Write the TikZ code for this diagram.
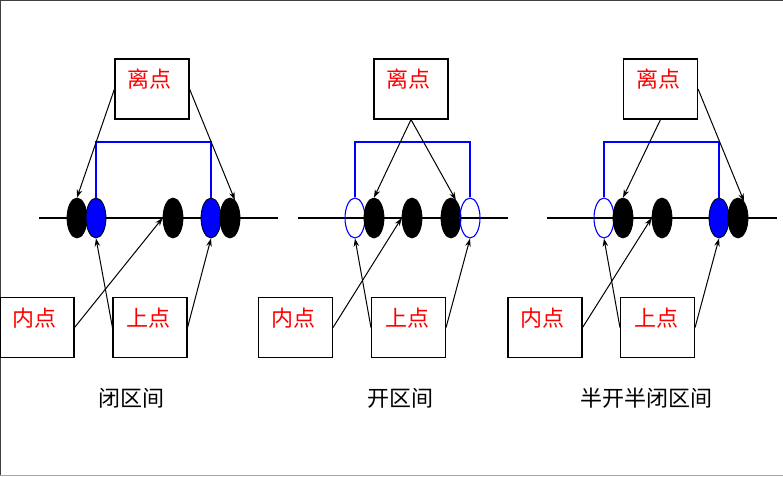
\documentclass[tikz,border=0pt]{standalone}
\usepackage{fontspec}
\newfontfamily\cjk{Noto Sans CJK SC}
\usetikzlibrary{shapes.geometric,arrows.meta}
\tikzset{
  lbox/.style={draw=black, line width=1.1pt, minimum width=74pt, minimum height=60pt, inner sep=0pt,
    text=red, font=\cjk\fontsize{22}{22}\selectfont, text height=16pt, text depth=19pt},
  ptshape/.style={ellipse, minimum width=20pt, minimum height=40pt, inner sep=0pt, line width=0.8pt},
  blk/.style={ptshape, draw=black, fill=black},
  bfill/.style={ptshape, draw=black, fill=blue},
  bopen/.style={ptshape, draw=blue, line width=1.1pt},
  arr/.style={-{Stealth[length=8pt,width=5.5pt]}, line width=1pt},
  axisline/.style={line width=1.1pt},
  brk/.style={draw=blue, line width=1.1pt},
  captext/.style={font=\cjk\fontsize{22}{22}\selectfont, text=black}
}
\begin{document}
\begin{tikzpicture}[x=1pt,y=-1pt]
\useasboundingbox (0,0) rectangle (783,476);
\draw[draw=black!75, line width=1pt] (0.5,476) -- (0.5,0.5) -- (783,0.5);
\draw[draw=black!35, line width=1pt] (0,475.5) -- (783,475.5);
% axes
\draw[axisline] (39,218) -- (278,218);
\draw[axisline] (298,218) -- (508,218);
\draw[axisline] (547,218) -- (777,218);
% ---------- panel 1 ----------
\node[blk] (a1) at (77,218) {};
\node[bfill] (a2) at (96,218) {};
\node[blk] (a3) at (173,218) {};
\node[bfill] (a4) at (211,218) {};
\node[blk] (a5) at (230,218) {};
\draw[brk] (a2.north) -- (a2.north |- 0,142) -| (a4.north);
\node[lbox] (L1) at (152,89) {离点\hspace*{5pt}};
\node[lbox] (N1) at (37,327.5) {内点\hspace*{5pt}};
\node[lbox] (S1) at (150,327.5) {上点\hspace*{3pt}};
\draw[arr] (L1.west) -- (a1.north);
\draw[arr] (L1.east) -- (a5.75);
\draw[arr] (N1.east) -- (a3.west);
\draw[arr] (S1.west) -- (a2.south);
\draw[arr] (S1.east) -- (a4.south);
\node[captext] (C1) at (131,398) {闭区间};
% ---------- panel 2 ----------
\node[bopen] (b1) at (355,218) {};
\node[blk] (b2) at (374,218) {};
\node[blk] (b3) at (412,218) {};
\node[blk] (b4) at (451,218) {};
\node[bopen] (b5) at (470,218) {};
\draw[brk] (b1.north) -- (b1.north |- 0,142) -| (b5.north);
\node[lbox] (L2) at (411,89) {离点\hspace*{5pt}};
\node[lbox] (N2) at (295.5,327.5) {内点\hspace*{5pt}};
\node[lbox] (S2) at (408.5,327.5) {上点\hspace*{3pt}};
\draw[arr] (L2.south) -- (b2.north);
\draw[arr] (L2.south) -- (b4.75);
\draw[arr] (N2.east) -- (b3.west);
\draw[arr] (S2.west) -- (b1.south);
\draw[arr] (S2.east) -- (b5.south);
\node[captext] (C2) at (400,398) {开区间};
% ---------- panel 3 ----------
\node[bopen] (c1) at (604,218) {};
\node[blk] (c2) at (623,218) {};
\node[blk] (c3) at (662,218) {};
\node[bfill] (c4) at (719,218) {};
\node[blk] (c5) at (738,218) {};
\draw[brk] (c1.north) -- (c1.north |- 0,142) -| (c4.north);
\node[lbox] (L3) at (660.5,89) {离点\hspace*{5pt}};
\node[lbox] (N3) at (545,327.5) {内点\hspace*{5pt}};
\node[lbox] (S3) at (657.5,327.5) {上点\hspace*{3pt}};
\draw[arr] (L3.south) -- (c2.north);
\draw[arr] (L3.east) -- (c5.70);
\draw[arr] (N3.east) -- (c3.west);
\draw[arr] (S3.west) -- (c1.south);
\draw[arr] (S3.east) -- (c4.south);
\node[captext] (C3) at (646,398) {半开半闭区间};
\end{tikzpicture}
\end{document}
